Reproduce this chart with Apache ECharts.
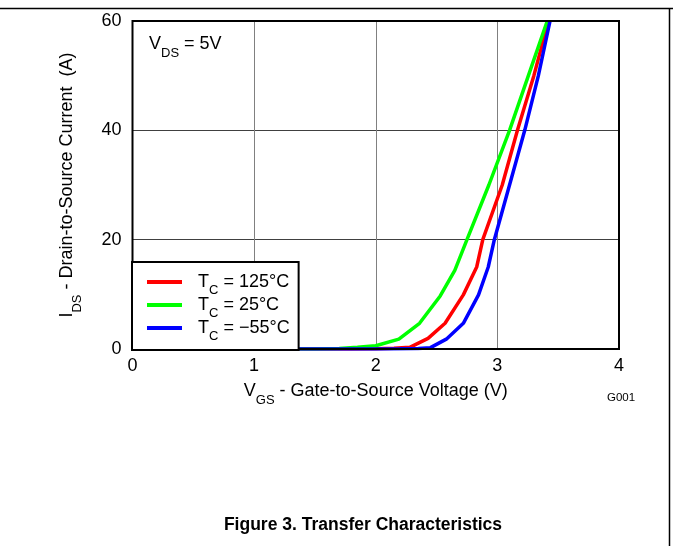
<!DOCTYPE html>
<html>
<head>
<meta charset="utf-8">
<script src="https://cdn.jsdelivr.net/npm/echarts@6/dist/echarts.min.js"></script>
<style>html,body{margin:0;padding:0;background:#fff;}#c{width:673px;height:546px;}</style>
</head>
<body>
<div id="c"></div>
<script>
var seriesNames = ['T_C = 125°C', 'T_C = 25°C', 'T_C = \u221255°C'];
var tempLabels = ['125°C', '25°C', '\u221255°C'];
var colors = ['#ff0000', '#00ff00', '#0000ff'];

var red_V   = [0, 1.0, 1.8, 2.0, 2.15, 2.28, 2.43, 2.57, 2.72, 2.83, 2.88, 3.04, 3.165, 3.30, 3.42];
var red_I   = [0, 0, 0.01, 0.05, 0.12, 0.3, 1.95, 4.7, 9.9, 15, 20, 30, 40, 50, 60];
var green_V = [0, 1.0, 1.5, 1.7, 1.85, 2.0, 2.19, 2.36, 2.53, 2.65, 2.75, 2.93, 3.10, 3.255, 3.41];
var green_I = [0, 0, 0.02, 0.1, 0.3, 0.6, 1.8, 4.7, 9.7, 14.4, 20, 30, 40, 50, 60];
var blue_V  = [0, 1.0, 2.0, 2.2, 2.35, 2.45, 2.58, 2.72, 2.845, 2.925, 2.975, 3.10, 3.225, 3.337, 3.433];
var blue_I  = [0, 0, 0.01, 0.04, 0.1, 0.25, 1.8, 4.7, 9.9, 15, 20, 30, 40, 50, 60];

var xTicks = [0, 1, 2, 3, 4];
var yTicks = [0, 20, 40, 60];

function pairs(xs, ys) { return xs.map(function (x, i) { return [x, ys[i]]; }); }
var allV = [red_V, green_V, blue_V];
var allI = [red_I, green_I, blue_I];

var FONT = 'Liberation Sans, Arial, sans-serif';
var FS = 18, SS = 13;
var chart = echarts.init(document.getElementById('c'), null, {renderer: 'canvas'});

function rich(fillKey, lh) {
  lh = lh || 22;
  var m = {fontFamily: FONT, fontSize: FS, lineHeight: lh, verticalAlign: 'middle'};
  var s = {fontFamily: FONT, fontSize: SS, lineHeight: lh, verticalAlign: 'bottom', padding: [0, 0, -5, 0]};
  m[fillKey] = '#000'; s[fillKey] = '#000';
  return {m: m, s: s};
}

var series = seriesNames.map(function (n, k) {
  return {
    name: n, type: 'line', data: pairs(allV[k], allI[k]),
    showSymbol: false, symbol: 'none', smooth: false,
    lineStyle: {color: colors[k], width: 3.5},
    itemStyle: {color: colors[k]},
    z: 3 + k
  };
});

var option = {
  animation: false,
  backgroundColor: '#fff',
  grid: {left: 132.5, right: 54, top: 21, bottom: 197, show: true, borderColor: '#000', borderWidth: 2, backgroundColor: 'transparent', z: 10},
  xAxis: {
    type: 'value', min: xTicks[0], max: xTicks[xTicks.length - 1], interval: 1,
    axisLine: {show: false}, axisTick: {show: false},
    splitLine: {show: true, lineStyle: {color: '#808080', width: 1}},
    axisLabel: {fontFamily: FONT, fontSize: FS, color: '#000', margin: 8},
    name: '{m|V}{s|GS}{m| - Gate-to-Source Voltage (V)}',
    nameLocation: 'middle', nameGap: 31,
    nameTextStyle: {fontFamily: FONT, rich: rich('color')}
  },
  yAxis: {
    type: 'value', min: yTicks[0], max: yTicks[yTicks.length - 1], interval: 20,
    axisLine: {show: false}, axisTick: {show: false},
    splitLine: {show: true, lineStyle: {color: '#404040', width: 1}},
    axisLabel: {fontFamily: FONT, fontSize: FS, color: '#000', margin: 11},
    name: '{m|I}{s|DS}{m| - Drain-to-Source Current  (A)}',
    nameLocation: 'middle', nameGap: 54, nameRotate: 90,
    nameTextStyle: {fontFamily: FONT, rich: rich('color')}
  },
  legend: {
    orient: 'vertical', left: 132, top: 262,
    data: seriesNames,
    backgroundColor: '#fff', borderColor: '#000', borderWidth: 2,
    padding: [11, 9, 7, 15],
    itemWidth: 35, itemHeight: 4, itemGap: -1, icon: 'rect',
    formatter: function (name) {
      var k = seriesNames.indexOf(name);
      return '{m|T}{s|C}{m| = ' + tempLabels[k] + '}';
    },
    textStyle: {fontFamily: FONT, padding: [0, 0, 0, 11], rich: rich('color', 20)},
    z: 20
  },
  title: {
    text: 'Figure 3. Transfer Characteristics',
    left: 358, top: 511, textAlign: 'center',
    textStyle: {fontFamily: FONT, fontSize: 17.5, fontWeight: 'bold', color: '#000'}
  },
  graphic: [
    {type: 'line', shape: {x1: 0, y1: 8.5, x2: 673, y2: 8.5}, style: {stroke: '#000', lineWidth: 1.5}},
    {type: 'line', shape: {x1: 669.5, y1: 8, x2: 669.5, y2: 546}, style: {stroke: '#000', lineWidth: 1.5}},
    {type: 'text', left: 149, top: 35, style: {rich: rich('fill'), text: '{m|V}{s|DS}{m| = 5V}'}},
    {type: 'text', left: 607, top: 392, style: {text: 'G001', fontFamily: FONT, fontSize: 11.5, fill: '#000'}}
  ],
  series: series
};
chart.setOption(option);
</script>
</body>
</html>
